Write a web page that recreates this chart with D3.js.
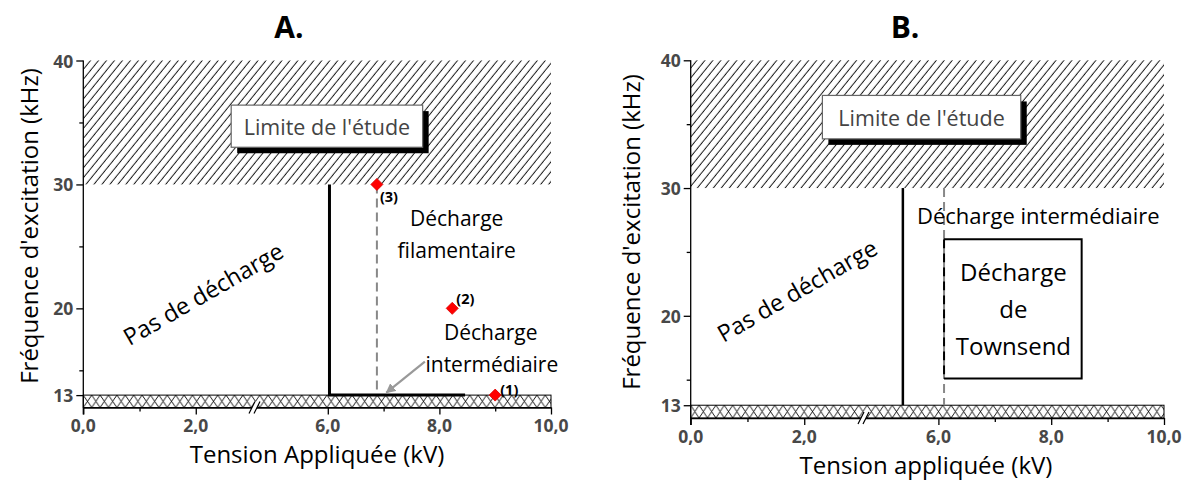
<!DOCTYPE html>
<html>
<head>
<meta charset="utf-8">
<script src="https://cdn.jsdelivr.net/npm/d3@7"></script>
<style>
  body { margin: 0; background: #fff; }
  svg { font-family: "Open Sans", sans-serif; }
  .ticklab { font-family: "Open Sans", sans-serif; font-size: 17.5px; font-weight: bold; fill: #484848; }
</style>
</head>
<body>
<div id="chart"></div>
<script>
// axis ticks (x has a break between 3 and 5 kV)
var xMajor = [0, 2, 6, 8, 10];
var xMinor = [1, 7, 9];
var yMajor = [13, 20, 30, 40];
var yMinor = [15, 25, 35];

// shaded zones (kHz)
var limitZone = [30, 40];
var baseZone = [12, 13];

// panel A : operating points + boundaries
var pointsA = [[9.0, 13], [8.23, 20], [6.88, 30]];
var pointLabelsA = ["(1)", "(2)", "(3)"];
var solidA = [[6.03, 30], [6.03, 13], [8.46, 13]];
var dashedA = [[6.88, 30], [6.88, 13]];
var arrowA = [[7.74, 15.7], [7.05, 13.2]];
var textsA = [
    {t: "Décharge", x: 8.31, y: 27.3},
    {t: "filamentaire", x: 8.31, y: 24.7},
    {t: "Décharge", x: 8.92, y: 18.1},
    {t: "intermédiaire", x: 8.94, y: 15.55}
];
var limitBoxA = {x: [2.63, 7.70], y: [33.0, 36.4]};
var pasA = {x: 2.13, y: 21.2};

// panel B
var solidB = [[5.37, 30], [5.37, 13]];
var dashedB = [[6.1, 30], [6.1, 13]];
var townsendBox = {x: [6.1, 8.54], y: [15.1, 26.0]};
var townsendText = [
    {t: "Décharge", x: 7.33, y: 23.45},
    {t: "de", x: 7.33, y: 20.6},
    {t: "Townsend", x: 7.33, y: 17.7}
];
var interB = {t: "Décharge intermédiaire", x: 5.62, y: 27.9};
var limitBoxB = {x: [2.32, 7.46], y: [33.85, 37.25]};
var pasB = {x: 1.87, y: 22.0};

var svg = d3.select("#chart").append("svg")
    .attr("width", 1198)
    .attr("height", 480);

var defs = svg.append("defs");

var hatch = defs.append("pattern")
    .attr("id", "hatch")
    .attr("patternUnits", "userSpaceOnUse")
    .attr("width", 6.2)
    .attr("height", 6.2)
    .attr("patternTransform", "rotate(39)");
hatch.append("line")
    .attr("x1", 3).attr("y1", -1).attr("x2", 3).attr("y2", 7.2)
    .attr("stroke", "#000")
    .attr("stroke-width", 0.9);

defs.append("marker")
    .attr("id", "arrowHead")
    .attr("viewBox", "0 0 10 10")
    .attr("refX", 9).attr("refY", 5)
    .attr("markerWidth", 4.5).attr("markerHeight", 4.5)
    .attr("markerUnits", "strokeWidth")
    .attr("orient", "auto")
  .append("path")
    .attr("d", "M0,0 L10,5 L0,10 Z")
    .attr("fill", "#999");

var fmt = function(v) { return d3.format(".1f")(v).replace(".", ","); };
var noLabel = function() { return ""; };

function drawPanel(p) {
    var x = d3.scaleLinear()
        .domain([0, 3, 5, 10])
        .range([p.left, p.breakL, p.breakR, p.right]);
    var y = d3.scaleLinear()
        .domain([12, 40])
        .range([p.bottom, p.top]);

    var g = svg.append("g");

    // cross-hatch for the base band
    var bandH = y(baseZone[0]) - y(baseZone[1]);
    var cross = defs.append("pattern")
        .attr("id", "cross" + p.id)
        .attr("patternUnits", "userSpaceOnUse")
        .attr("x", p.left)
        .attr("y", y(baseZone[1]))
        .attr("width", 8.4)
        .attr("height", bandH);
    cross.append("path")
        .attr("d", "M0,0L8.4," + bandH + "M8.4,0L0," + bandH)
        .attr("stroke", "#000")
        .attr("stroke-width", 0.9);

    g.append("rect")
        .attr("x", x(0)).attr("width", x(10) - x(0))
        .attr("y", y(limitZone[1])).attr("height", y(limitZone[0]) - y(limitZone[1]))
        .attr("fill", "url(#hatch)");

    g.append("rect")
        .attr("x", x(0)).attr("width", x(10) - x(0))
        .attr("y", y(baseZone[1])).attr("height", bandH)
        .attr("fill", "url(#cross" + p.id + ")")
        .attr("stroke", "#000")
        .attr("stroke-width", 1);

    // axes (lines and ticks from d3, labels drawn below)
    g.append("g")
        .attr("transform", "translate(0," + p.bottom + ")")
        .call(d3.axisBottom(x).tickValues(xMajor).tickSize(7).tickSizeOuter(0).tickFormat(noLabel));
    g.append("g")
        .attr("transform", "translate(0," + p.bottom + ")")
        .call(d3.axisBottom(x).tickValues(xMinor).tickSize(4).tickSizeOuter(0).tickFormat(noLabel))
        .select(".domain").remove();

    var yAxis = g.append("g")
        .attr("transform", "translate(" + p.left + ",0)")
        .call(d3.axisLeft(y).tickValues(yMajor).tickSize(7).tickSizeOuter(0).tickFormat(noLabel));
    g.append("g")
        .attr("transform", "translate(" + p.left + ",0)")
        .call(d3.axisLeft(y).tickValues(yMinor).tickSize(4).tickSizeOuter(0).tickFormat(noLabel))
        .select(".domain").remove();
    yAxis.select(".domain").attr("d", "M0," + y(40) + "V" + (p.bottom + 7));
    g.selectAll(".tick line, .domain").attr("stroke", "#000").attr("stroke-width", 1.3);

    g.selectAll(".xlab").data(xMajor).enter().append("text")
        .attr("class", "ticklab")
        .attr("x", function(d) { return x(d); })
        .attr("y", p.bottom + p.xLabDy)
        .attr("text-anchor", "middle")
        .attr("dominant-baseline", "central")
        .text(fmt);
    g.selectAll(".ylab").data(yMajor).enter().append("text")
        .attr("class", "ticklab")
        .attr("x", p.left - 10)
        .attr("y", function(d) { return y(d); })
        .attr("text-anchor", "end")
        .attr("dominant-baseline", "central")
        .text(function(d) { return d; });

    // axis break marks
    var bx = x(3) + 4, by = p.bottom;
    g.append("path")
        .attr("d", "M" + (bx - 7) + "," + (by + 6) + "L" + (bx - 1) + "," + (by - 6)
            + "L" + (bx + 4) + "," + (by - 6) + "L" + (bx - 2) + "," + (by + 6) + "Z")
        .attr("fill", "#fff");
    g.append("path")
        .attr("d", "M" + (bx - 7) + "," + (by + 6) + "L" + (bx - 1) + "," + (by - 6)
            + "M" + (bx - 2) + "," + (by + 6) + "L" + (bx + 4) + "," + (by - 6))
        .attr("stroke", "#000").attr("stroke-width", 1.2).attr("fill", "none");

    // titles
    svg.append("text")
        .attr("x", p.titleX).attr("y", 38)
        .attr("text-anchor", "middle")
        .style("font-size", "30px").style("font-weight", "bold")
        .text(p.title);
    svg.append("text")
        .attr("transform", "translate(" + p.yTitleX + "," + p.yTitleY + ") rotate(-90)")
        .attr("text-anchor", "middle")
        .attr("dominant-baseline", "central")
        .style("font-size", "24px")
        .text("Fréquence d'excitation (kHz)");
    svg.append("text")
        .attr("x", p.xTitleX).attr("y", p.xTitleY)
        .attr("text-anchor", "middle")
        .attr("dominant-baseline", "central")
        .style("font-size", "24px")
        .text(p.xTitle);

    // "Limite de l'étude" box with shadow
    var lb = p.limitBox;
    g.append("rect")
        .attr("x", x(lb.x[0]) + 6).attr("y", y(lb.y[1]) + 6)
        .attr("width", x(lb.x[1]) - x(lb.x[0])).attr("height", y(lb.y[0]) - y(lb.y[1]))
        .attr("fill", "#000");
    g.append("rect")
        .attr("x", x(lb.x[0])).attr("y", y(lb.y[1]))
        .attr("width", x(lb.x[1]) - x(lb.x[0])).attr("height", y(lb.y[0]) - y(lb.y[1]))
        .attr("fill", "#fff").attr("stroke", "#666").attr("stroke-width", 1.2);
    g.append("text")
        .attr("x", (x(lb.x[0]) + x(lb.x[1])) / 2)
        .attr("y", (y(lb.y[0]) + y(lb.y[1])) / 2)
        .attr("text-anchor", "middle")
        .attr("dominant-baseline", "central")
        .attr("fill", "#444")
        .style("font-size", "21.5px")
        .text("Limite de l'étude");

    // "Pas de décharge"
    g.append("text")
        .attr("transform", "translate(" + x(p.pas.x) + "," + y(p.pas.y) + ") rotate(-30)")
        .attr("text-anchor", "middle")
        .attr("dominant-baseline", "central")
        .style("font-size", "23.5px")
        .text("Pas de décharge");

    return {g: g, x: x, y: y};
}

var line = function(s) {
    return d3.line().x(function(d) { return s.x(d[0]); }).y(function(d) { return s.y(d[1]); });
};

// ---------------------------------------------------------------- panel A
var A = drawPanel({
    id: "A", title: "A.", titleX: 289,
    left: 83.3, breakL: 252, breakR: 272, right: 551,
    top: 60.5, bottom: 407.5, xLabDy: 17,
    yTitleX: 28, yTitleY: 226,
    xTitle: "Tension Appliquée (kV)", xTitleX: 317, xTitleY: 453,
    limitBox: limitBoxA, pas: pasA
});

A.g.append("path").datum(dashedA)
    .attr("d", line(A))
    .attr("fill", "none").attr("stroke", "#888")
    .attr("stroke-width", 2).attr("stroke-dasharray", "9,5");
A.g.append("path").datum(solidA)
    .attr("d", line(A))
    .attr("fill", "none").attr("stroke", "#000")
    .attr("stroke-width", 3);
A.g.append("path").datum(arrowA)
    .attr("d", line(A))
    .attr("fill", "none").attr("stroke", "#999")
    .attr("stroke-width", 2.2)
    .attr("marker-end", "url(#arrowHead)");

A.g.selectAll(".txt").data(textsA).enter().append("text")
    .attr("x", function(d) { return A.x(d.x); })
    .attr("y", function(d) { return A.y(d.y); })
    .attr("text-anchor", "middle")
    .attr("dominant-baseline", "central")
    .style("font-size", "21px")
    .text(function(d) { return d.t; });

A.g.selectAll(".pt").data(pointsA).enter().append("path")
    .attr("d", d3.symbol(d3.symbolSquare, 72))
    .attr("transform", function(d) { return "translate(" + A.x(d[0]) + "," + A.y(d[1]) + ") rotate(45)"; })
    .attr("fill", "#f00")
    .attr("stroke", "#d00").attr("stroke-width", 0.8);

var labOff = [[5, -6], [4, -10], [3, 12]];
A.g.selectAll(".ptl").data(pointsA).enter().append("text")
    .attr("x", function(d, i) { return A.x(d[0]) + labOff[i][0]; })
    .attr("y", function(d, i) { return A.y(d[1]) + labOff[i][1]; })
    .attr("dominant-baseline", "central")
    .style("font-size", "14.5px").style("font-weight", "bold")
    .text(function(d, i) { return pointLabelsA[i]; });

// ---------------------------------------------------------------- panel B
var B = drawPanel({
    id: "B", title: "B.", titleX: 905,
    left: 690.7, breakL: 861, breakR: 882, right: 1164,
    top: 60.3, bottom: 418, xLabDy: 18,
    yTitleX: 630, yTitleY: 232,
    xTitle: "Tension appliquée (kV)", xTitleX: 926, xTitleY: 464,
    limitBox: limitBoxB, pas: pasB
});

B.g.append("path").datum(dashedB)
    .attr("d", line(B))
    .attr("fill", "none").attr("stroke", "#888")
    .attr("stroke-width", 2).attr("stroke-dasharray", "9,5");
B.g.append("path").datum(solidB)
    .attr("d", line(B))
    .attr("fill", "none").attr("stroke", "#000")
    .attr("stroke-width", 2.5);

var tb = townsendBox;
B.g.append("path")
    .attr("d", "M" + B.x(tb.x[0]) + "," + B.y(tb.y[1]) + "H" + B.x(tb.x[1])
        + "V" + B.y(tb.y[0]) + "H" + B.x(tb.x[0]))
    .attr("fill", "none").attr("stroke", "#000").attr("stroke-width", 2);
B.g.append("line")
    .attr("x1", B.x(tb.x[0])).attr("x2", B.x(tb.x[0]))
    .attr("y1", B.y(tb.y[1])).attr("y2", B.y(tb.y[0]))
    .attr("stroke", "#000").attr("stroke-width", 2).attr("stroke-dasharray", "9,5");

B.g.append("text")
    .attr("x", B.x(interB.x)).attr("y", B.y(interB.y))
    .attr("dominant-baseline", "central")
    .style("font-size", "22px")
    .text(interB.t);

B.g.selectAll(".tw").data(townsendText).enter().append("text")
    .attr("x", function(d) { return B.x(d.x); })
    .attr("y", function(d) { return B.y(d.y); })
    .attr("text-anchor", "middle")
    .attr("dominant-baseline", "central")
    .style("font-size", "24px")
    .text(function(d) { return d.t; });
</script>
</body>
</html>
